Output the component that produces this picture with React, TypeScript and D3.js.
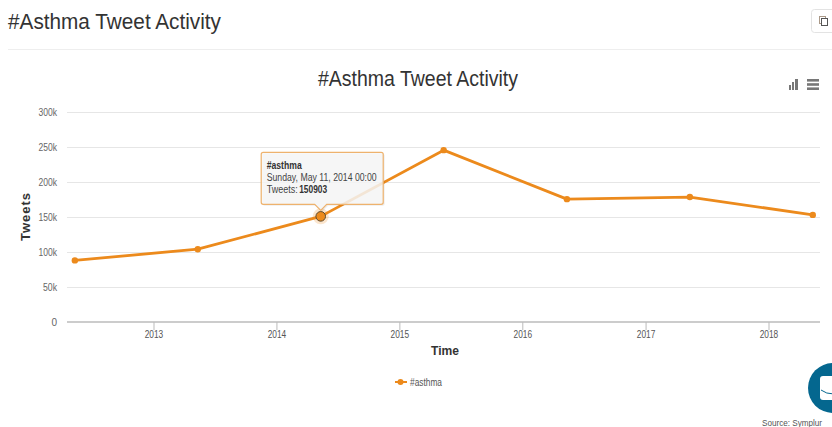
import React from "react";
import * as d3 from "d3";

const years = [2012, 2013, 2014, 2015, 2016, 2017, 2018];
const tweets = [88000, 104000, 150903, 245500, 175500, 178500, 153000];
const yTicks = [0, 50000, 100000, 150000, 200000, 250000, 300000];
const xTickYears = [2013, 2014, 2015, 2016, 2017, 2018];
const seriesName = "#asthma";
const pageTitle = "#Asthma Tweet Activity";
const tooltipLines = ["Sunday, May 11, 2014 00:00"];
const highlightIndex = 2;

const W = 832, H = 427;
const ORANGE = "#ec8a1c";
const font = "'Liberation Sans', Arial, sans-serif";

export default function App() {
  const x = d3.scaleUtc().domain([new Date(Date.UTC(2013, 0, 1)), new Date(Date.UTC(2018, 0, 1))]).range([154, 769]);
  const y = d3.scaleLinear().domain([0, 300000]).range([322, 112]);
  const pts = years.map((yr, i) => ({ d: new Date(Date.UTC(yr, 4, 11)), v: tweets[i] }));
  const line = d3.line<{ d: Date; v: number }>().x(p => x(p.d)).y(p => y(p.v));
  const hx = x(pts[highlightIndex].d), hy = y(pts[highlightIndex].v);
  const tw = 122, th = 52, tx = hx - 59.5, ty = hy - 64;
  const tipPath = `M${tx + 2},${ty}H${tx + tw - 2}Q${tx + tw},${ty} ${tx + tw},${ty + 2}V${ty + th - 2}Q${tx + tw},${ty + th} ${tx + tw - 2},${ty + th}H${hx + 6}L${hx},${ty + th + 6}L${hx - 6},${ty + th}H${tx + 2}Q${tx},${ty + th} ${tx},${ty + th - 2}V${ty + 2}Q${tx},${ty} ${tx + 2},${ty}Z`;
  return (
    <svg width={W} height={H} style={{ position: "fixed", left: 0, top: 0, background: "#fff" }} fontFamily={font}>
      <text x={8} y={29} fontSize={21.5} fill="#333" textLength={213} lengthAdjust="spacingAndGlyphs">{pageTitle}</text>
      <line x1={8} x2={832} y1={49.5} y2={49.5} stroke="#eee" />
      <rect x={811.5} y={9.5} width={30} height={23} rx={3} fill="#fff" stroke="#e3e3e3" />
      <g fill="none" stroke="#555" strokeWidth={1}>
        <rect x={819.5} y={16.5} width={6} height={7} stroke="#a98" />
        <rect x={821.5} y={18.5} width={6} height={7} fill="#fff" />
      </g>

      <text x={418} y={86} textAnchor="middle" fontSize={21.5} fill="#333" textLength={200} lengthAdjust="spacingAndGlyphs">{pageTitle}</text>

      <g fill="#777">
        <rect x={789} y={85} width={2} height={5} />
        <rect x={792} y={82} width={2} height={8} />
        <rect x={795} y={79} width={3} height={11} />
        <rect x={807} y={79} width={12} height={2.6} />
        <rect x={807} y={83.2} width={12} height={2.6} />
        <rect x={807} y={87.4} width={12} height={2.6} />
      </g>

      {yTicks.filter(t => t > 0).map(t => (
        <line key={t} x1={67} x2={820} y1={y(t) + 0.5} y2={y(t) + 0.5} stroke="#e6e6e6" />
      ))}
      {yTicks.map(t => (
        <text key={t} x={57} y={y(t) + 3.5} textAnchor="end" fontSize={10} fill="#666"
          textLength={t === 0 ? undefined : (t >= 100000 ? 18.5 : 14)} lengthAdjust="spacingAndGlyphs">
          {t === 0 ? "0" : `${t / 1000}k`}
        </text>
      ))}
      <line x1={67} x2={820} y1={322} y2={322} stroke="#bbb" strokeWidth={1.5} />
      {xTickYears.map(yr => {
        const px = x(new Date(Date.UTC(yr, 0, 1)));
        return (
          <g key={yr}>
            <line x1={px} x2={px} y1={322} y2={330} stroke="#bbb" />
            <text x={px} y={337.5} textAnchor="middle" fontSize={10} fill="#555" textLength={18.5} lengthAdjust="spacingAndGlyphs">{yr}</text>
          </g>
        );
      })}

      <text transform="translate(30,217) rotate(-90)" textAnchor="middle" fontSize={13} fontWeight="bold" fill="#333" textLength={48} lengthAdjust="spacing">Tweets</text>
      <text x={445} y={355} textAnchor="middle" fontSize={13} fontWeight="bold" fill="#333" textLength={28} lengthAdjust="spacingAndGlyphs">Time</text>

      <path d={line(pts) ?? ""} fill="none" stroke={ORANGE} strokeWidth={2.8} strokeLinejoin="round" />
      {pts.map((p, i) => i !== highlightIndex && <circle key={i} cx={x(p.d)} cy={y(p.v)} r={3.2} fill={ORANGE} />)}
      <circle cx={hx} cy={hy} r={8} fill={ORANGE} opacity={0.22} />

      <path d={tipPath} fill="#000" opacity={0.07} transform="translate(1.5,1.5)" />
      <path d={tipPath} fill="#f7f7f7" fillOpacity={0.85} stroke="#eeb26d" strokeWidth={1.2} />
      <circle cx={hx} cy={hy} r={4.8} fill={ORANGE} stroke="#5b4a30" strokeWidth={1} />
      <text x={tx + 5.5} y={ty + 17} fontSize={10} fontWeight="bold" fill="#333" textLength={35} lengthAdjust="spacingAndGlyphs">{seriesName}</text>
      <text x={tx + 5.5} y={ty + 29} fontSize={10} fill="#444" textLength={110} lengthAdjust="spacingAndGlyphs">{tooltipLines[0]}</text>
      <text x={tx + 5.5} y={ty + 41} fontSize={10} fill="#444" textLength={31} lengthAdjust="spacingAndGlyphs">Tweets:</text>
      <text x={tx + 38} y={ty + 41} fontSize={10} fontWeight="bold" fill="#333" textLength={28} lengthAdjust="spacingAndGlyphs">{pts[highlightIndex].v}</text>

      <line x1={395} x2={407} y1={382} y2={382} stroke={ORANGE} strokeWidth={2} />
      <circle cx={400.5} cy={382} r={3} fill={ORANGE} />
      <text x={410} y={385.5} fontSize={10} fill="#555" textLength={32} lengthAdjust="spacingAndGlyphs">{seriesName}</text>

      <circle cx={833} cy={388} r={25} fill="#04678f" />
      <rect x={820} y={376} width={20} height={24} rx={3} fill="#fff" />
      <path d="M821,390 Q826,394 834,394" fill="none" stroke="#04678f" strokeWidth={1} />
      <text x={822} y={426} textAnchor="end" fontSize={9.5} fill="#555" textLength={60} lengthAdjust="spacingAndGlyphs">Source: Symplur</text>
    </svg>
  );
}
